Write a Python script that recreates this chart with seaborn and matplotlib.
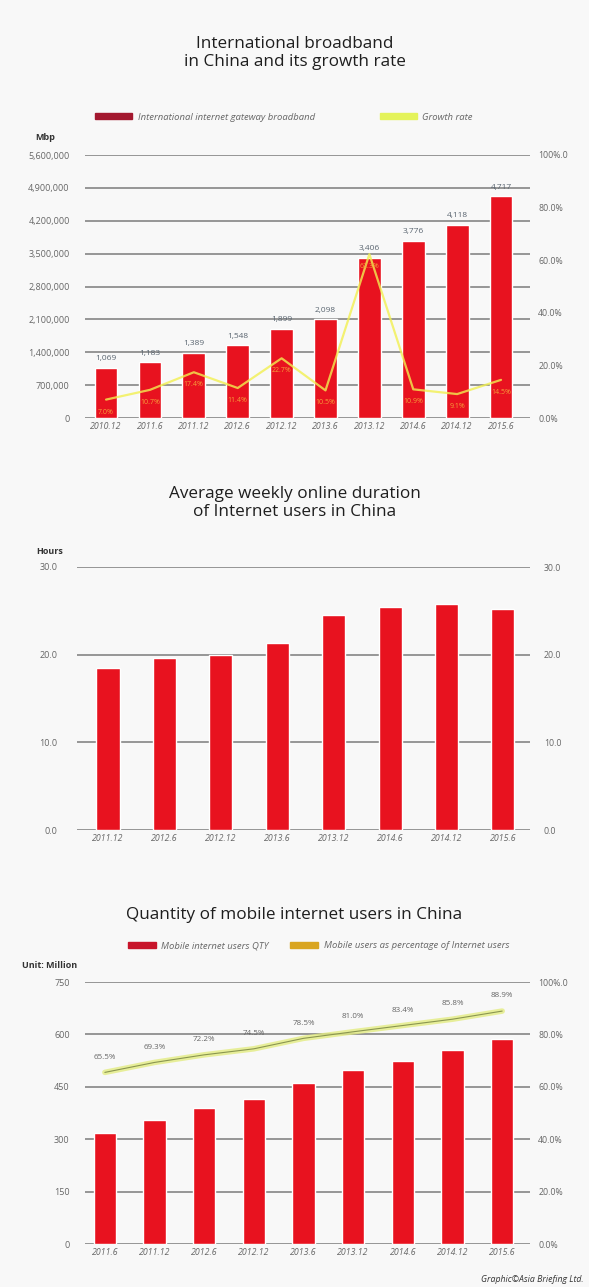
import numpy as np
import matplotlib
matplotlib.use("Agg")
import matplotlib.pyplot as plt
import seaborn as sns
from matplotlib.patches import Patch

# --- chart 1 : international broadband ---
bb_periods = ["2010.12", "2011.6", "2011.12", "2012.6", "2012.12",
              "2013.6", "2013.12", "2014.6", "2014.12", "2015.6"]
bb_values = [1069, 1183, 1389, 1548, 1899, 2098, 3406, 3776, 4118, 4717]   # thousand Mbps
bb_growth = [7.0, 10.7, 17.4, 11.4, 22.7, 10.5, 62.3, 10.9, 9.1, 14.5]    # %
bb_left_ticks = [0, 700000, 1400000, 2100000, 2800000, 3500000, 4200000, 4900000, 5600000]
pct_ticks = [0, 20, 40, 60, 80, 100]
pct_labels = ["0.0%", "20.0%", "40.0%", "60.0%", "80.0%", "100%.0"]

# --- chart 2 : weekly online hours ---
hr_periods = ["2011.12", "2012.6", "2012.12", "2013.6",
              "2013.12", "2014.6", "2014.12", "2015.6"]
hr_values = [18.5, 19.6, 20.0, 21.3, 24.5, 25.4, 25.8, 25.2]
hr_ticks = [0, 10, 20, 30]

# --- chart 3 : mobile internet users ---
mob_periods = ["2011.6", "2011.12", "2012.6", "2012.12", "2013.6",
               "2013.12", "2014.6", "2014.12", "2015.6"]
mob_users = [318, 356, 388, 415, 460, 498, 524, 555, 588]
mob_share = [65.5, 69.3, 72.2, 74.5, 78.5, 81.0, 83.4, 85.8, 88.9]
mob_ticks = [0, 150, 300, 450, 600, 750]

sns.set_theme(style="white")
plt.rcParams['font.family'] = ['Open Sans', 'DejaVu Sans']

BG = "#f8f8f8"
RED = "#e8121f"
GRID = "#858585"
TXT = "#666666"

W, H = 589, 1287
fig = plt.figure(figsize=(W / 100, H / 100), dpi=100, facecolor=BG)


def box(left, top, right, bottom):
    # pixel box -> figure fraction
    return [left / W, 1 - bottom / H, (right - left) / W, (bottom - top) / H]


def style(ax, xlim, ylim, yticks, ylabels, lpad, periods):
    ax.set_facecolor(BG)
    ax.set_xlim(*xlim)
    ax.set_ylim(*ylim)
    ax.set_yticks(yticks)
    ax.set_yticklabels(ylabels, fontsize=6.5, color=TXT)
    ax.set_xticks(range(len(periods)))
    ax.set_xticklabels(periods, fontsize=6.3, color=TXT, fontstyle="italic")
    ax.tick_params(axis="both", length=0)
    ax.tick_params(axis="y", pad=lpad)
    ax.tick_params(axis="x", pad=3)
    ax.set_xlabel("")
    ax.set_ylabel("")
    ax.grid(axis="y", color=GRID, lw=1.2)
    ax.grid(axis="x", visible=False)
    ax.set_axisbelow(True)
    for s in ax.spines.values():
        s.set_visible(False)


def right_axis(ax, ylim, yticks, ylabels, rpad):
    ax2 = ax.twinx()
    ax2.set_ylim(*ylim)
    ax2.set_yticks(yticks)
    ax2.set_yticklabels(ylabels, fontsize=6.3, color=TXT)
    ax2.tick_params(axis="y", length=0, pad=rpad)
    ax2.grid(False)
    for s in ax2.spines.values():
        s.set_visible(False)
    return ax2


# ---------------- chart 1 ----------------
fig.text(0.5, 1 - 53 / H, "International broadband\nin China and its growth rate",
         ha="center", va="center", fontsize=12.3, color="#1e1e1e", linespacing=1.15)

ax1 = fig.add_axes(box(85, 155, 530, 418))
sns.barplot(x=bb_periods, y=[v * 1000 for v in bb_values], color=RED,
            saturation=1, width=0.52, ax=ax1)
for i, v in enumerate(bb_values):
    ax1.annotate(f"{v:,}", (i, v * 1000), xytext=(0, 4), textcoords="offset points",
                 ha="center", va="bottom", fontsize=6, color="#5a6570")
style(ax1, (-0.48, 9.66), (0, 5600000), bb_left_ticks,
      [f"{t:,}" for t in bb_left_ticks], 11, bb_periods)

ax1b = right_axis(ax1, (0, 100), pct_ticks, pct_labels, 6)
sns.lineplot(x=np.arange(len(bb_growth)), y=bb_growth, ax=ax1b,
             color="#f2f050", lw=1.6, alpha=0.8)
for i, g in enumerate(bb_growth):
    ax1b.annotate(f"{g:.1f}%", (i, g), xytext=(0, -9), textcoords="offset points",
                  ha="center", va="center", fontsize=5, color="#f6a03a")
ax1b.set_ylabel("")
ax1b.set_xlim(-0.48, 9.66)

fig.text(45 / W, 1 - 138 / H, "Mbp", ha="center", va="center",
         fontsize=6.5, fontweight="bold", color="#333333")
fig.legend(handles=[Patch(color="#a3182f", label="International internet gateway broadband"),
                    Patch(color="#e4f35a", label="Growth rate")],
           loc="center", bbox_to_anchor=(0.482, 1 - 117 / H), ncol=2, frameon=False,
           handlelength=3.9, handleheight=0.6, handletextpad=0.6, columnspacing=6.9,
           prop={"style": "italic", "size": 6.8}, labelcolor=TXT)

# ---------------- chart 2 ----------------
fig.text(0.5, 1 - 503 / H, "Average weekly online duration\nof Internet users in China",
         ha="center", va="center", fontsize=12.3, color="#1e1e1e", linespacing=1.15)

ax2 = fig.add_axes(box(77, 567, 530, 830))
sns.barplot(x=hr_periods, y=hr_values, color=RED, saturation=1, width=0.41, ax=ax2)
style(ax2, (-0.55, 7.48), (0, 30), hr_ticks, [f"{t:.1f}" for t in hr_ticks], 14, hr_periods)
right_axis(ax2, (0, 30), hr_ticks, [f"{t:.1f}" for t in hr_ticks], 10)
fig.text(50 / W, 1 - 551 / H, "Hours", ha="center", va="center",
         fontsize=6.5, fontweight="bold", color="#333333")

# ---------------- chart 3 ----------------
fig.text(0.5, 1 - 915 / H, "Quantity of mobile internet users in China",
         ha="center", va="center", fontsize=12.3, color="#1e1e1e")

ax3 = fig.add_axes(box(85, 982, 530, 1244))
sns.barplot(x=mob_periods, y=mob_users, color=RED, saturation=1, width=0.45, ax=ax3)
style(ax3, (-0.40, 8.56), (0, 750), mob_ticks, [str(t) for t in mob_ticks], 11, mob_periods)

ax3b = right_axis(ax3, (0, 100), pct_ticks, pct_labels, 6)
sns.lineplot(x=np.arange(len(mob_share)), y=mob_share, ax=ax3b,
             color="#e3ec82", lw=4, alpha=0.8)
sns.lineplot(x=np.arange(len(mob_share)), y=mob_share, ax=ax3b,
             color="#8a9650", lw=0.8)
for i, s in enumerate(mob_share):
    ax3b.annotate(f"{s:.1f}%", (i, s), xytext=(0, 11), textcoords="offset points",
                  ha="center", va="center", fontsize=5.8, color=TXT)
ax3b.set_ylabel("")
ax3b.set_xlim(-0.40, 8.56)

fig.text(50 / W, 1 - 965 / H, "Unit: Million", ha="center", va="center",
         fontsize=6.5, fontweight="bold", color="#333333")
fig.legend(handles=[Patch(color="#c8142a", label="Mobile internet users QTY"),
                    Patch(color="#d9a520", label="Mobile users as percentage of Internet users")],
           loc="center", bbox_to_anchor=(0.541, 1 - 946 / H), ncol=2, frameon=False,
           handlelength=2.9, handleheight=0.6, handletextpad=0.6, columnspacing=2.3,
           prop={"style": "italic", "size": 6.8}, labelcolor=TXT)

fig.text(584 / W, 1 - 1279 / H, "Graphic\u00a9Asia Briefing Ltd.", ha="right", va="center",
         fontsize=6.3, fontstyle="italic", color="#333333")

fig.savefig("out.png", dpi=100, facecolor=BG)
